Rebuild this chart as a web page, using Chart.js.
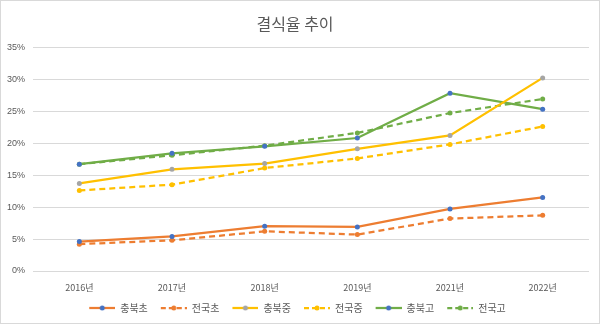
<!DOCTYPE html>
<html>
<head>
<meta charset="utf-8">
<script src="https://cdn.jsdelivr.net/npm/chart.js@4/dist/chart.umd.min.js"></script>
<style>
  body { margin: 0; background: #fff; }
  #wrap { width: 600px; height: 324px; box-sizing: border-box; border: 1px solid #d9d9d9; }
</style>
</head>
<body>
<div id="wrap"><canvas id="rateChart" width="598" height="322"></canvas></div>
<script>
var years = ['2016년', '2017년', '2018년', '2019년', '2021년', '2022년'];

// 결식율 (%)
var cbElem  = [4.6, 5.4, 7.0, 6.9, 9.7, 11.5];   // 충북초
var krElem  = [4.2, 4.8, 6.2, 5.7, 8.2, 8.7];    // 전국초
var cbMid   = [13.7, 15.9, 16.8, 19.1, 21.2, 30.2]; // 충북중
var krMid   = [12.6, 13.5, 16.1, 17.6, 19.8, 22.6]; // 전국중
var cbHigh  = [16.7, 18.4, 19.5, 20.8, 27.8, 25.3]; // 충북고
var krHigh  = [16.7, 18.1, 19.6, 21.6, 24.7, 26.9]; // 전국고

var orange = '#ED7D31', yellow = '#FFC000', green = '#70AD47';
var blue = '#4472C4', gray = '#A5A5A5';

// legend swatch: line with a dot in the middle (5px blank on the left for spacing)
function swatch(color, dot, dashed) {
  var c = document.createElement('canvas');
  c.width = 31; c.height = 8;
  var g = c.getContext('2d');
  g.strokeStyle = color;
  g.lineWidth = 2.25;
  if (dashed) g.setLineDash([5, 3]);
  g.beginPath(); g.moveTo(5, 4); g.lineTo(31, 4); g.stroke();
  g.fillStyle = dot;
  g.beginPath(); g.arc(18, 4, 2.5, 0, Math.PI * 2); g.fill();
  return c;
}

function series(label, data, color, dot, dashed) {
  return {
    label: label,
    data: data,
    borderColor: color,
    backgroundColor: color,
    borderWidth: 2.25,
    borderDash: dashed ? [6, 4] : [],
    pointRadius: 2.5,
    pointBackgroundColor: dot,
    pointBorderColor: dot,
    pointBorderWidth: 0,
    tension: 0,
    swatch: swatch(color, dot, dashed)
  };
}

var datasets = [
  series('충북초', cbElem, orange, blue, false),
  series('전국초', krElem, orange, orange, true),
  series('충북중', cbMid, yellow, gray, false),
  series('전국중', krMid, yellow, yellow, true),
  series('충북고', cbHigh, green, blue, false),
  series('전국고', krHigh, green, green, true)
];

var ctx = document.getElementById('rateChart').getContext('2d');
var chart = new Chart(ctx, {
  type: 'line',
  data: { labels: years, datasets: datasets },
  options: {
    responsive: false,
    animation: false,
    layout: { padding: { left: 0, right: 10, top: 0, bottom: 0 } },
    plugins: {
      title: {
        display: true,
        text: '결식율 추이',
        color: '#595959',
        font: { family: "'Noto Sans CJK KR', sans-serif", size: 16, weight: 'normal' },
        padding: { top: 13, bottom: 14 }
      },
      legend: {
        position: 'bottom',
        labels: {
          usePointStyle: true,
          pointStyleWidth: 31,
          color: '#595959',
          font: { family: "'Noto Sans CJK KR', sans-serif", size: 10 },
          padding: 8,
          generateLabels: function(c) {
            return c.data.datasets.map(function(ds, i) {
              return { text: ds.label, pointStyle: ds.swatch, fontColor: '#595959', datasetIndex: i, strokeStyle: ds.borderColor, fillStyle: ds.borderColor, lineWidth: 0 };
            });
          }
        }
      },
      tooltip: { enabled: false }
    },
    scales: {
      x: {
        offset: true,
        grid: { display: false },
        border: { display: false },
        afterFit: function(s) { s.height = 24; },
        ticks: { color: '#595959', font: { family: "'Noto Sans CJK KR', sans-serif", size: 9 }, padding: 3 }
      },
      y: {
        min: 0,
        max: 35,
        border: { display: false },
        grid: { color: '#d9d9d9', drawTicks: false },
        afterFit: function(s) { s.width = 32; },
        ticks: {
          stepSize: 5,
          color: '#595959',
          padding: 8,
          font: { family: "'Liberation Sans', sans-serif", size: 9 },
          callback: function(v) { return v + '%'; }
        }
      }
    }
  }
});
</script>
</body>
</html>
